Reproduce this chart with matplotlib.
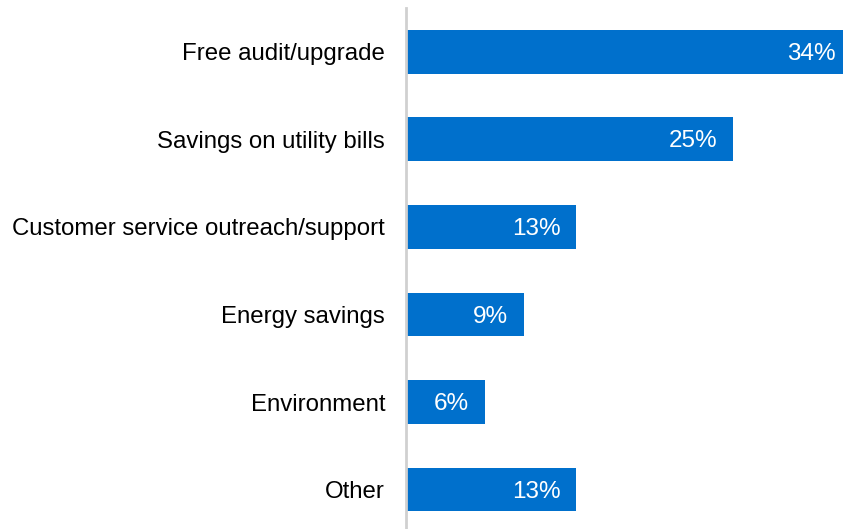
import matplotlib.pyplot as plt

plt.rcParams["font.family"] = ["Liberation Sans", "DejaVu Sans"]

# --- Data ---
categories = ["Free audit/upgrade", "Savings on utility bills",
              "Customer service outreach/support", "Energy savings",
              "Environment", "Other"]
shares = [34, 25, 13, 9, 6, 13]
bar_color = "#0070CC"

# --- Horizontal bar chart ---
fig = plt.figure(figsize=(8.43, 5.29), dpi=100)
ax = fig.add_axes([406 / 843, 0, 1 - 406 / 843, 521 / 529])

ypos = range(len(categories))
ax.barh(ypos, shares, height=0.5, color=bar_color)

# value labels inside the bar ends
for y, v in zip(ypos, shares):
    ax.annotate(f"{v}%", xy=(v, y), xytext=(-11, -1.5), textcoords="offset points",
                color="white", fontsize=17.5, ha="right", va="center",
                annotation_clip=False)

ax.set_xlim(0, 33.4)
ax.set_ylim(5.45, -0.5)
ax.set_yticks(list(ypos))
ax.set_yticklabels(categories, fontsize=17.3)
ax.tick_params(axis="y", length=0, pad=15)
ax.set_xticks([])

for side in ["top", "right", "bottom"]:
    ax.spines[side].set_visible(False)
ax.spines["left"].set_color("#D0D0D0")
ax.spines["left"].set_linewidth(2)

fig.savefig("out.png", dpi=100)
